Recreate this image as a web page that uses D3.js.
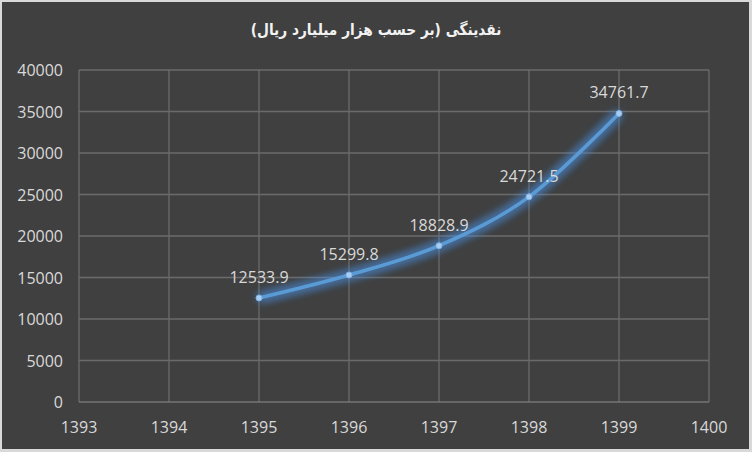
<!DOCTYPE html>
<html>
<head>
<meta charset="utf-8">
<script src="https://cdn.jsdelivr.net/npm/d3@7"></script>
<style>
  html, body { margin: 0; padding: 0; background: #d9d9d9; }
  svg { display: block; }
</style>
</head>
<body>
<svg id="s" width="752" height="452"></svg>
<script>
const title = 'نقدینگی (بر حسب هزار میلیارد ریال)';
const years = [1395, 1396, 1397, 1398, 1399];
const values = [12533.9, 15299.8, 18828.9, 24721.5, 34761.7];
const xTicks = [1393, 1394, 1395, 1396, 1397, 1398, 1399, 1400];
const yTicks = [0, 5000, 10000, 15000, 20000, 25000, 30000, 35000, 40000];

const svg = d3.select('#s');
const W = 752, H = 452;
const m = { left: 79, right: 43, top: 70, bottom: 50 };

svg.append('rect')
  .attr('x', 2).attr('y', 2)
  .attr('width', W - 5).attr('height', H - 5)
  .attr('fill', '#404040');

const x = d3.scaleLinear().domain([1393, 1400]).range([m.left, W - m.right]);
const y = d3.scaleLinear().domain([0, 40000]).range([H - m.bottom, m.top]);

const defs = svg.append('defs');
const glow = defs.append('filter').attr('id', 'glow')
  .attr('x', '-20%').attr('y', '-20%').attr('width', '140%').attr('height', '140%');
glow.append('feGaussianBlur').attr('in', 'SourceGraphic').attr('stdDeviation', 4).attr('result', 'b');
const mg = glow.append('feMerge');
mg.append('feMergeNode').attr('in', 'b');
mg.append('feMergeNode').attr('in', 'b');

// grid
svg.append('g').selectAll('line')
  .data(yTicks.slice(1)).join('line')
  .attr('x1', m.left).attr('x2', W - m.right)
  .attr('y1', d => y(d)).attr('y2', d => y(d))
  .attr('stroke', '#6b6b6b').attr('stroke-width', 1.3);
svg.append('g').selectAll('line')
  .data(xTicks).join('line')
  .attr('x1', d => x(d)).attr('x2', d => x(d))
  .attr('y1', y(40000)).attr('y2', y(0))
  .attr('stroke', '#6b6b6b').attr('stroke-width', 1.3);
svg.append('line')
  .attr('x1', m.left).attr('x2', W - m.right)
  .attr('y1', y(0)).attr('y2', y(0))
  .attr('stroke', '#747474').attr('stroke-width', 1.5);

// axis labels
const lab = { fill: '#d9d9d9', 'font-family': '"Open Sans", sans-serif', 'font-size': '16px' };
const yl = svg.append('g').selectAll('text')
  .data(yTicks).join('text')
  .attr('x', m.left - 16).attr('y', d => y(d) + 6)
  .attr('text-anchor', 'end')
  .text(d => d);
const xl = svg.append('g').selectAll('text')
  .data(xTicks).join('text')
  .attr('x', d => x(d)).attr('y', y(0) + 31)
  .attr('text-anchor', 'middle')
  .text(d => d);
Object.entries(lab).forEach(([k, v]) => { yl.attr(k, v); xl.attr(k, v); });

// line
const pts = years.map((yr, i) => [yr, values[i]]);
const line = d3.line().x(d => x(d[0])).y(d => y(d[1])).curve(d3.curveCatmullRom.alpha(0));
svg.append('path').datum(pts)
  .attr('d', line).attr('fill', 'none')
  .attr('stroke', '#4a90e2').attr('stroke-width', 8).attr('opacity', 0.6)
  .attr('filter', 'url(#glow)');
svg.append('path').datum(pts)
  .attr('d', line).attr('fill', 'none')
  .attr('stroke', '#5b9bd5').attr('stroke-width', 3.5).attr('stroke-linecap', 'round');
svg.append('g').selectAll('circle')
  .data(pts).join('circle')
  .attr('cx', d => x(d[0])).attr('cy', d => y(d[1])).attr('r', 3)
  .attr('fill', '#a9cdf0').attr('stroke', '#7fb2e5').attr('stroke-width', 1);

// data labels
svg.append('g').selectAll('text')
  .data(pts).join('text')
  .attr('x', d => x(d[0])).attr('y', d => y(d[1]) - 15)
  .attr('text-anchor', 'middle')
  .attr('fill', '#d9d9d9').attr('font-family', '"Open Sans", sans-serif').attr('font-size', '16px')
  .text(d => d[1].toFixed(1));

svg.append('text')
  .attr('transform', 'translate(376,35) scale(0.86,1)')
  .attr('text-anchor', 'middle').attr('direction', 'rtl')
  .attr('fill', '#f2f2f2').attr('font-family', '"DejaVu Sans", sans-serif')
  .attr('font-weight', 'bold').attr('font-size', '16px')
  .text(title);
</script>
</body>
</html>
